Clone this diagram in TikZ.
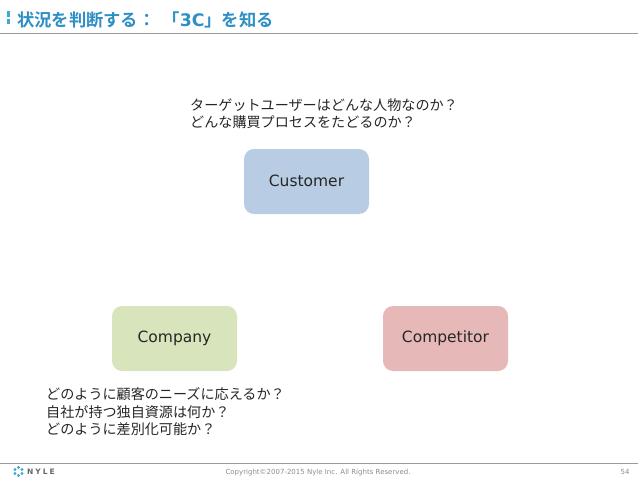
\documentclass[tikz,border=0pt]{standalone}
\usepackage{xcolor}
\usepackage{fontspec}
\setmainfont{DejaVu Sans}
\newfontfamily\jpfont{Noto Sans CJK JP}
\newfontfamily\jpbold{Noto Sans CJK JP Bold}
\usetikzlibrary{
	positioning
}
\definecolor{titleblue}{HTML}{2E8FC4}
\definecolor{custblue}{HTML}{B8CCE4}
\definecolor{compgreen}{HTML}{D7E4BC}
\definecolor{rivalred}{HTML}{E6B9B8}
\definecolor{rulegray}{HTML}{9A9A9A}
\definecolor{footgray}{HTML}{8C8C8C}
\definecolor{logoblue}{HTML}{3FA9D6}
\tikzset{
	box/.style={rectangle, rounded corners=10pt, minimum width=125pt, minimum height=65pt, inner sep=0pt, font=\fontsize{15.5}{18}\selectfont, text=black!85},
	note/.style={anchor=north west, align=left, inner sep=0pt, font=\jpfont\fontsize{14.1}{17.5}\selectfont, text=black!85},
	foot/.style={font=\fontsize{7}{8}\selectfont, text=footgray, inner sep=0pt}
}
\begin{document}
\begin{tikzpicture}[x=1pt, y=-1pt]
		\useasboundingbox (0,0) rectangle (638,479);
		% header
		\draw[rulegray, line width=0.8pt] (0,33.5) -- (638,33.5);
		\draw[logoblue, line width=2.2pt, dash pattern=on 5.5pt off 2pt] (8.5,11) -- (8.5,24);
		\node[anchor=west, inner sep=0pt, text=titleblue, font=\jpbold\fontsize{17.3}{20}\selectfont] (title) at (17,20) {状況を判断する：\hspace{7pt}「{\bfseries\rmfamily 3C}」を知る};
		% boxes
		\node[box, fill=custblue] (customer) at (306.5,181.5) {\raisebox{2pt}{Customer}};
		\node[box, fill=compgreen] (company) at (174.5,338.5) {Company};
		\node[box, fill=rivalred] (competitor) at (445.5,338.5) {\raisebox{1.5pt}{Competitor}};
		% notes
		\node[note] (custnote) at (190,98) {ターゲットユーザーはどんな人物なのか？\\どんな購買プロセスをたどるのか？};
		\node[note] (compnote) at (46,387.5) {どのように顧客のニーズに応えるか？\\自社が持つ独自資源は何か？\\どのように差別化可能か？};
		% footer
		\draw[rulegray, line width=0.8pt] (0,463.5) -- (638,463.5);
		\foreach \ang in {30,90,...,330}
			\fill[logoblue] (18.5,471.5) ++(\ang:4) circle (1.7pt);
		\node[anchor=west, inner sep=0pt, text=black!60, font=\bfseries\fontsize{7.5}{9}\selectfont] (logo) at (27,471.5) {N\hspace{2pt}Y\hspace{2pt}L\hspace{2pt}E};
		\node[foot] (copyright) at (318,472.5) {Copyright©2007-2015 Nyle Inc. All Rights Reserved.};
		\node[foot] (pageno) at (625,472) {54};
	\end{tikzpicture}
\end{document}
